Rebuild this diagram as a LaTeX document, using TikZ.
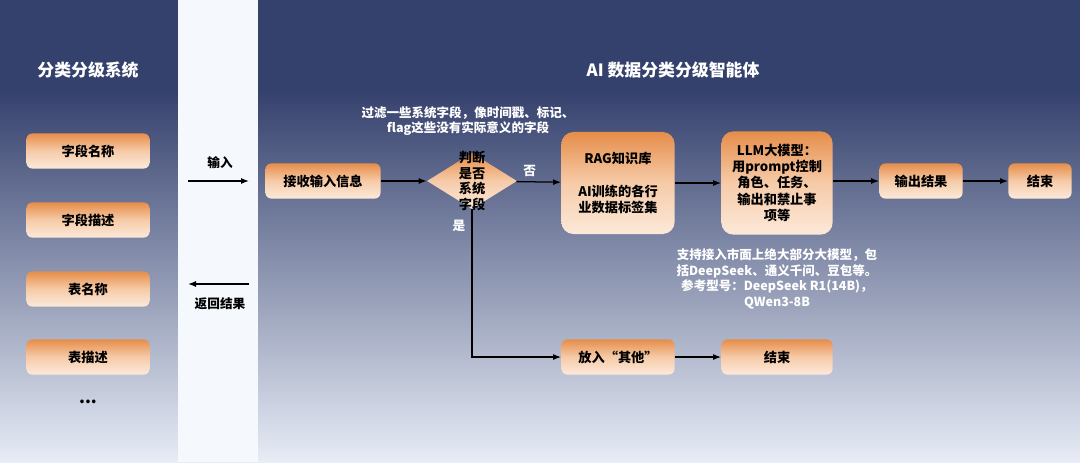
\documentclass[tikz,border=0pt]{standalone}
\usepackage{fontspec}
\setmainfont{Noto Sans CJK SC}
\usetikzlibrary{arrows.meta}
\usetikzlibrary{shapes.geometric}

\definecolor{navy}{HTML}{35416D}
\definecolor{paleblue}{HTML}{E7ECF6}
\definecolor{stripwhite}{HTML}{F5F8FC}
\definecolor{boxtop}{HTML}{E68D4A}
\definecolor{boxmid}{HTML}{F6CBA8}
\definecolor{boxbottom}{HTML}{FCE9DA}

\tikzset{
	box/.style={rounded corners=1.5mm, top color=boxtop, bottom color=boxbottom, middle color=boxmid, align=center, inner sep=0pt, minimum height=0.88cm, font=\fontsize{9.4pt}{11.5pt}\selectfont\bfseries},
	flow/.style={-{Latex[length=2mm]}, line width=0.9pt},
	note/.style={text=white, align=center, font=\fontsize{8.9pt}{11pt}\selectfont\bfseries},
	headline/.style={text=white, font=\fontsize{12pt}{14pt}\selectfont\bfseries},
	tag/.style={font=\fontsize{9pt}{11pt}\selectfont\bfseries},
}

\begin{document}
\begin{tikzpicture}[x=0.025cm, y=-0.025cm]
	%Background panels
	\useasboundingbox (0,0) rectangle (1080,462);
	\fill [navy] (0,0) rectangle (1080,91);
	\shade [top color=navy, bottom color=paleblue] (0,90) rectangle (1080,462);
	\fill [stripwhite] (178,0) rectangle (258,462);

	%Classification system
	\node [headline] (systitle) at (88,70) {分类分级系统};
	\node [box, minimum width=3.08cm] (fname) at (88,151) {字段名称};
	\node [box, minimum width=3.08cm] (fdesc) at (88,220) {字段描述};
	\node [box, minimum width=3.08cm] (tname) at (88,289) {表名称};
	\node [box, minimum width=3.08cm] (tdesc) at (88,357) {表描述};
	\node [font=\fontsize{12pt}{12pt}\selectfont\bfseries] (more) at (88,402) {...};

	%Input and result
	\coordinate (inleft) at (188,181);
	\coordinate (inright) at (249,181);
	\coordinate (backleft) at (188,284);
	\coordinate (backright) at (249,284);
	\draw [flow] (inleft) to (inright);
	\draw [flow] (backright) to (backleft);
	\node [tag] (inlabel) at (220,163) {输入};
	\node [tag] (backlabel) at (220,304) {返回结果};

	%Agent
	\node [headline] (agenttitle) at (673,70) {AI 数据分类分级智能体};
	\node [box, minimum width=2.88cm] (receive) at (323,181) {接收输入信息};
	\node [diamond, top color=boxtop, bottom color=boxbottom, middle color=boxmid, minimum width=2.25cm, minimum height=1.4cm, inner sep=0pt] (judge) at (472,181) {};
	\node [align=center, font=\fontsize{9.4pt}{11.3pt}\selectfont\bfseries] (judgetext) at (472,181) {判断\\是否\\系统\\字段};
	\node [note] (filternote) at (468,121) {过滤一些系统字段，像时间戳、标记、\\flag这些没有实际意义的字段};
	\node [box, minimum width=2.83cm, minimum height=2.55cm, rounded corners=3mm] (rag) at (618,183) {RAG知识库\\[11.5pt]AI训练的各行\\业数据标签集};
	\node [box, minimum width=2.78cm, minimum height=2.58cm, rounded corners=3mm] (llm) at (777,183) {LLM大模型：\\用prompt控制\\角色、任务、\\输出和禁止事\\项等};
	\node [box, minimum width=2.08cm] (output) at (921,181) {输出结果};
	\node [box, minimum width=1.58cm] (finish) at (1040,181) {结束};
	\node [note] (modelnote) at (777,279) {支持接入市面上绝大部分大模型，包\\括DeepSeek、通义千问、豆包等。\\参考型号：DeepSeek R1(14B)，\\QWen3-8B};
	\node [box, minimum width=2.83cm] (other) at (618,357) {放入“其他”};
	\node [box, minimum width=2.78cm] (finishtwo) at (777,357) {结束};

	%Connectors
	\draw [flow] (receive) to (judge);
	\draw [flow] (judge) to node [tag, text=white, above, pos=0.3] (nolabel) {否} (rag);
	\draw [flow] (rag) to (llm);
	\draw [flow] (llm.east |- output) to (output);
	\draw [flow] (output) to (finish);
	\draw [flow] (judge.south) |- (other);
	\node [tag, text=white] (yeslabel) at (459,226) {是};
	\draw [flow] (other) to (finishtwo);
\end{tikzpicture}
\end{document}
